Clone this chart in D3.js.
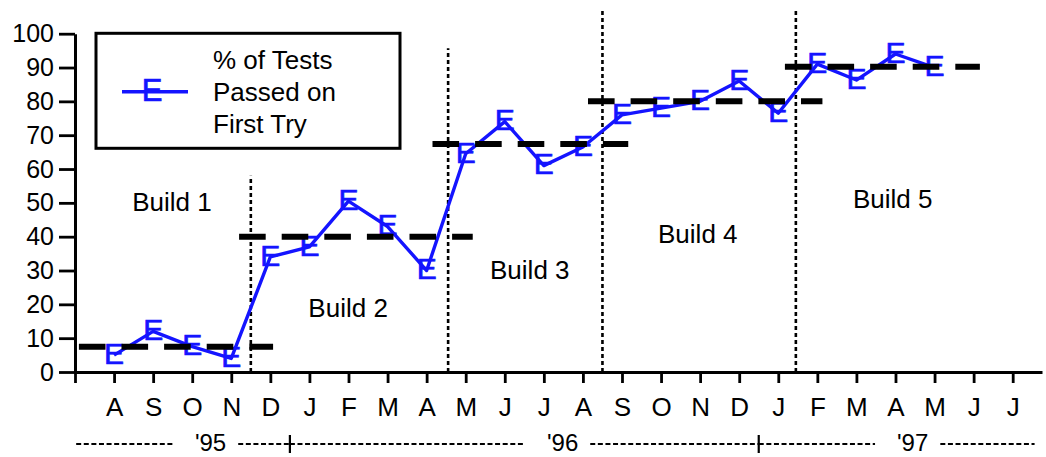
<!DOCTYPE html>
<html>
<head>
<meta charset="utf-8">
<script src="https://cdn.jsdelivr.net/npm/d3@7"></script>
<style>
  html, body { margin: 0; padding: 0; background: #fff; }
  svg { display: block; }
  text { font-family: "Liberation Sans", Arial, Helvetica, sans-serif; fill: #000; }
</style>
</head>
<body>
<svg id="chart" width="1046" height="457"></svg>
<script>
// ---- data ----
const monthLabels = ["", "A","S","O","N","D","J","F","M","A","M","J","J","A","S","O","N","D","J","F","M","A","M","J","J"];
const pointMonths = [1,2,3,4,5,6,7,8,9,10,11,12,13,14,15,16,17,18,19,20,21,22];
const passed      = [5,12,7.5,4,34,37,50.5,43,30,64.5,74,61,66.5,76,78,80,86,76.5,91,86.3,94,90];
const buildNames  = ["Build 1","Build 2","Build 3","Build 4","Build 5"];
const buildAvg    = [7.5, 40, 67.4, 80, 90.2];
const buildFrom   = [0.1, 4.2, 9.15, 13.13, 18.17];
const buildTo     = [5.07, 10.18, 14.16, 19.13, 23.16];
const buildLabelAt = [2.48, 6.99, 11.64, 15.94, 20.93];
const buildLabelY  = [47.6, 16.3, 27.5, 38.1, 48.5];
const separatorAt  = [4.5, 9.55, 13.5, 18.45];
const separatorTop = [58, 95.7, 107.5, 107.5];
const yTicks = [0,10,20,30,40,50,60,70,80,90,100];
const yearLabels = ["'95","'96","'97"];
const yearFrom   = [0.03, 5.5, 17.5];
const yearTo     = [5.5, 17.5, 24.56];
const yearAt     = [3.47, 12.48, 21.44];
const yearBreaks = [5.5, 17.5];
const legendLines = ["% of Tests","Passed on","First Try"];

// ---- layout ----
const svg = d3.select("#chart");
const x = d3.scaleLinear().domain([0, 24.75]).range([75, 1042]);
const y = d3.scaleLinear().domain([0, 100]).range([372, 33.7]);
const BLUE = "#1414ff";
const FONT = 26;

// y axis
const yAxis = svg.append("g").attr("transform", "translate(75,0)")
  .call(d3.axisLeft(y).tickValues(yTicks).tickSize(16).tickSizeOuter(0).tickPadding(5).tickFormat(d3.format("d")));
yAxis.select(".domain").attr("stroke", "#000").attr("stroke-width", 3);
yAxis.selectAll(".tick line").attr("stroke", "#000").attr("stroke-width", 2.8);
yAxis.selectAll(".tick text").attr("font-size", 25).attr("font-family", null).attr("fill", "#000");

// x axis
const xAxis = svg.append("g").attr("transform", "translate(0,372)")
  .call(d3.axisBottom(x).tickValues(d3.range(0, 25)).tickSize(11).tickSizeOuter(0).tickPadding(14.5)
    .tickFormat(i => monthLabels[i]));
xAxis.select(".domain").attr("stroke", "#000").attr("stroke-width", 3);
xAxis.selectAll(".tick line").attr("stroke", "#000").attr("stroke-width", 2.8);
xAxis.selectAll(".tick text").attr("font-size", FONT).attr("font-family", null).attr("fill", "#000");

// year row
const yearG = svg.append("g");
const YR = 444;
yearLabels.forEach((lab, k) => {
  const t = yearG.append("text").attr("x", x(yearAt[k])).attr("y", 451.3)
    .attr("text-anchor", "middle").attr("font-size", 24).text(lab);
  const bb = t.node().getBBox();
  const segs = [[x(yearFrom[k]), bb.x - 22], [bb.x + bb.width + 12, x(yearTo[k])]];
  segs.forEach(s => {
    if (s[1] > s[0]) yearG.append("line").attr("x1", s[0]).attr("x2", s[1]).attr("y1", YR).attr("y2", YR)
      .attr("stroke", "#000").attr("stroke-width", 1.8).attr("stroke-dasharray", "5,2.6");
  });
});
yearBreaks.forEach(b => {
  yearG.append("line").attr("x1", x(b)).attr("x2", x(b)).attr("y1", 435).attr("y2", 453)
    .attr("stroke", "#000").attr("stroke-width", 2.2);
});

// separators (dotted)
separatorAt.forEach((s, k) => {
  svg.append("line").attr("x1", x(s)).attr("x2", x(s)).attr("y1", y(0)).attr("y2", y(separatorTop[k]))
    .attr("stroke", "#000").attr("stroke-width", 2.6).attr("stroke-dasharray", "4,3");
});

// build labels
buildNames.forEach((n, k) => {
  svg.append("text").attr("x", x(buildLabelAt[k])).attr("y", y(buildLabelY[k]))
    .attr("text-anchor", "middle").attr("font-size", FONT).text(n);
});

// data line
const pts = pointMonths.map((m, i) => [m, passed[i]]);
svg.append("path").datum(pts)
  .attr("d", d3.line().x(d => x(d[0])).y(d => y(d[1])))
  .attr("fill", "none").attr("stroke", BLUE).attr("stroke-width", 3.4).attr("stroke-linejoin", "round");

// markers "E"
const MK = 30;
svg.append("g").selectAll("text").data(pts).join("text")
  .attr("x", d => x(d[0])).attr("y", d => y(d[1]) + 0.716 * MK / 2 - 2)
  .attr("text-anchor", "middle").attr("font-size", MK)
  .style("fill", BLUE).attr("stroke", BLUE).attr("stroke-width", 0.7).text("E");

// build average dashed lines
buildAvg.forEach((v, k) => {
  svg.append("line").attr("x1", x(buildFrom[k])).attr("x2", x(buildTo[k]))
    .attr("y1", y(v)).attr("y2", y(v))
    .attr("stroke", "#000").attr("stroke-width", 6).attr("stroke-dasharray", "26.6,16");
});

// legend
const lg = svg.append("g");
lg.append("rect").attr("x", 96).attr("y", 33.3).attr("width", 304).attr("height", 115)
  .attr("fill", "#fff").attr("stroke", "#000").attr("stroke-width", 3);
lg.append("line").attr("x1", 122).attr("x2", 188).attr("y1", 91.7).attr("y2", 91.7)
  .attr("stroke", BLUE).attr("stroke-width", 3.4);
lg.append("text").attr("x", 152).attr("y", 90.3 + 0.716 * 31 / 2)
  .attr("text-anchor", "middle").attr("font-size", 31)
  .style("fill", BLUE).attr("stroke", BLUE).attr("stroke-width", 0.7).text("E");
legendLines.forEach((t, i) => {
  lg.append("text").attr("x", 213).attr("y", 69.3 + i * 32).attr("font-size", FONT).text(t);
});
</script>
</body>
</html>
